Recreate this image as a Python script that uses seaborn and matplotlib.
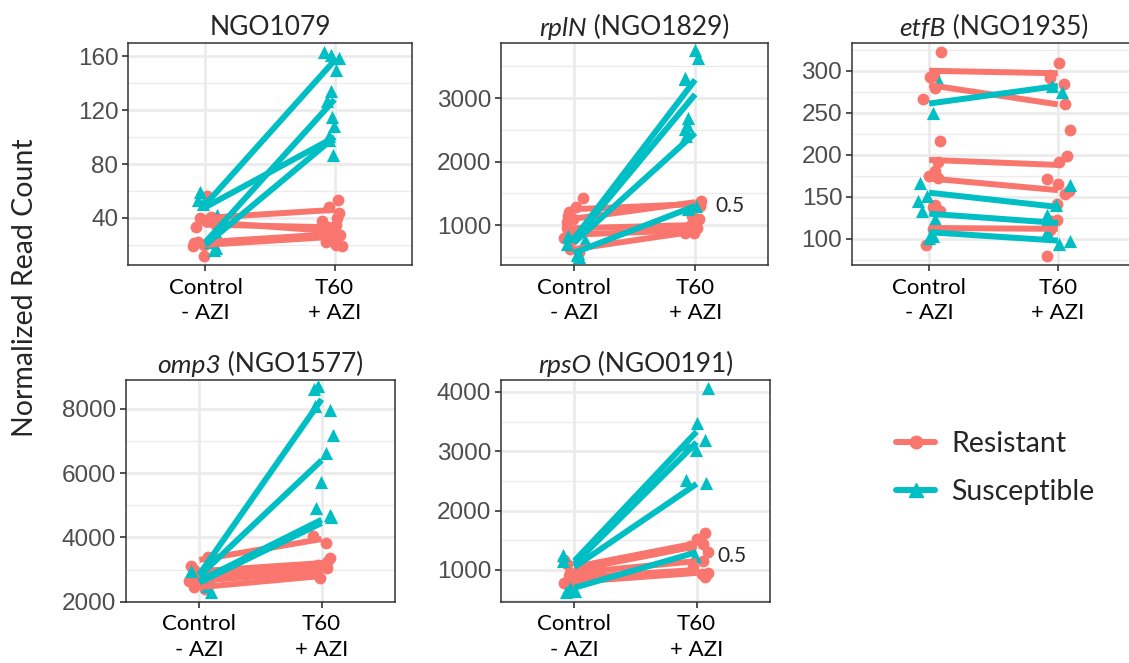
import numpy as np
import pandas as pd
import matplotlib.pyplot as plt
import seaborn as sns
from matplotlib.lines import Line2D
from matplotlib.ticker import FixedLocator

# time points on the x axis
times = ["Control\n- AZI", "T60\n+ AZI"]
groups = ["Resistant", "Susceptible"]
colors = {"Resistant": "#F8766D", "Susceptible": "#00BFC4"}

# NGO1079
ngo1079_res_ctrl = [56, 41, 40, 38, 36, 35, 33, 22, 21, 20, 19, 12]
ngo1079_res_t60 = [53, 48, 44, 40, 38, 35, 33, 30, 28, 27, 25, 22, 20, 19]
ngo1079_sus_ctrl = [59, 53, 50, 42, 26, 22, 18, 16]
ngo1079_sus_t60 = [161, 163, 159, 150, 134, 127, 115, 108, 101, 98, 87]
ngo1079_res_mean_ctrl = [40, 37, 35, 22, 20]
ngo1079_res_mean_t60 = [46, 30, 33, 28, 26]
ngo1079_sus_mean_ctrl = [50, 48, 22, 20]
ngo1079_sus_mean_t60 = [157, 100, 128, 100]

# rplN (NGO1829)
rpln_res_ctrl = [1420, 1280, 1200, 1150, 1100, 1050, 950, 900, 800, 780, 620, 580]
rpln_res_t60 = [1380, 1350, 1300, 1150, 1100, 1000, 950, 900, 880, 870]
rpln_sus_ctrl = [820, 760, 700, 560, 530, 500]
rpln_sus_t60 = [3760, 3630, 3320, 3300, 2690, 2580, 2510, 2400, 1300, 1260]
rpln_res_mean_ctrl = [1250, 1100, 950, 850, 620]
rpln_res_mean_t60 = [1330, 1360, 1000, 920, 900]
rpln_sus_mean_ctrl = [780, 760, 720, 560]
rpln_sus_mean_t60 = [3290, 3060, 2450, 1300]

# etfB (NGO1935)
etfb_res_ctrl = [322, 294, 292, 279, 266, 217, 192, 181, 175, 172, 140, 138, 133, 112, 93]
etfb_res_t60 = [309, 295, 291, 284, 260, 229, 199, 192, 171, 165, 157, 154, 141, 122, 121, 111, 80]
etfb_sus_ctrl = [287, 250, 167, 151, 145, 133, 124, 104, 101]
etfb_sus_t60 = [282, 275, 164, 140, 128, 120, 108, 98, 94]
etfb_res_mean_ctrl = [300, 283, 194, 172, 113]
etfb_res_mean_t60 = [297, 260, 188, 158, 112]
etfb_sus_mean_ctrl = [261, 155, 130, 108]
etfb_sus_mean_t60 = [282, 138, 119, 98]

# omp3 (NGO1577)
omp3_res_ctrl = [3400, 3100, 3000, 2900, 2800, 2700, 2650, 2550, 2450, 2400]
omp3_res_t60 = [4030, 3820, 3350, 3250, 3150, 3050, 2950, 2850, 2750]
omp3_sus_ctrl = [3050, 2950, 2750, 2500, 2300]
omp3_sus_t60 = [8710, 8620, 8080, 7980, 7200, 6630, 5740, 4910, 4700, 4650]
omp3_res_mean_ctrl = [3300, 2950, 2800, 2650, 2450]
omp3_res_mean_t60 = [3950, 3200, 3050, 2950, 2800]
omp3_sus_mean_ctrl = [2850, 2800, 2650, 2600]
omp3_sus_mean_t60 = [8300, 6400, 4550, 4450]

# rpsO (NGO0191)
rpso_res_ctrl = [1170, 1100, 1050, 1000, 950, 900, 850, 800, 780]
rpso_res_t60 = [1630, 1520, 1440, 1400, 1300, 1150, 1050, 950, 930, 880]
rpso_sus_ctrl = [1250, 1150, 1050, 700, 650, 630]
rpso_sus_t60 = [4060, 3470, 3190, 3130, 3020, 2510, 2460, 1230]
rpso_res_mean_ctrl = [1050, 1000, 950, 870, 800]
rpso_res_mean_t60 = [1450, 1400, 1150, 1000, 950]
rpso_sus_mean_ctrl = [1150, 1100, 1050, 700]
rpso_sus_mean_t60 = [3330, 3150, 2450, 1300]

panels = [
    # title parts, points, strain means, y ticks, minor step, y limits, MIC label y, axes box in pixels (l, t, r, b)
    ("", "NGO1079",
     [ngo1079_res_ctrl, ngo1079_res_t60, ngo1079_sus_ctrl, ngo1079_sus_t60],
     [ngo1079_res_mean_ctrl, ngo1079_res_mean_t60, ngo1079_sus_mean_ctrl, ngo1079_sus_mean_t60],
     [40, 80, 120, 160], 40, (5, 170), None, (128, 43, 412, 265)),
    ("rplN", " (NGO1829)",
     [rpln_res_ctrl, rpln_res_t60, rpln_sus_ctrl, rpln_sus_t60],
     [rpln_res_mean_ctrl, rpln_res_mean_t60, rpln_sus_mean_ctrl, rpln_sus_mean_t60],
     [1000, 2000, 3000], 1000, (370, 3870), 1300, (501, 43, 768, 265)),
    ("etfB", " (NGO1935)",
     [etfb_res_ctrl, etfb_res_t60, etfb_sus_ctrl, etfb_sus_t60],
     [etfb_res_mean_ctrl, etfb_res_mean_t60, etfb_sus_mean_ctrl, etfb_sus_mean_t60],
     [100, 150, 200, 250, 300], 50, (69, 333), None, (852, 43, 1135, 265)),
    ("omp3", " (NGO1577)",
     [omp3_res_ctrl, omp3_res_t60, omp3_sus_ctrl, omp3_sus_t60],
     [omp3_res_mean_ctrl, omp3_res_mean_t60, omp3_sus_mean_ctrl, omp3_sus_mean_t60],
     [2000, 4000, 6000, 8000], 2000, (1990, 8900), None, (126, 380, 395, 602)),
    ("rpsO", " (NGO0191)",
     [rpso_res_ctrl, rpso_res_t60, rpso_sus_ctrl, rpso_sus_t60],
     [rpso_res_mean_ctrl, rpso_res_mean_t60, rpso_sus_mean_ctrl, rpso_sus_mean_t60],
     [1000, 2000, 3000, 4000], 1000, (460, 4200), 1230, (501, 380, 770, 602)),
]

sns.set_theme(style="white")
plt.rcParams["font.family"] = ["Lato", "DejaVu Sans"]

W, H = 1129, 663
fig = plt.figure(figsize=(W / 100, H / 100), dpi=100)
renderer = fig.canvas.get_renderer()
np.random.seed(3)

for gene, suffix, pts, means, yticks, ystep, ylim, mic_y, box in panels:
    l, t, r, b = box
    ax = fig.add_axes([l / W, 1 - b / H, (r - l) / W, (b - t) / H])

    # jittered replicate points
    rows = []
    for g, (c, t6) in zip(groups, [(pts[0], pts[1]), (pts[2], pts[3])]):
        rows += [(g, times[0], v) for v in c]
        rows += [(g, times[1], v) for v in t6]
    df = pd.DataFrame(rows, columns=["group", "time", "value"])
    for g, mk, sz in [("Resistant", "o", 8.5), ("Susceptible", "^", 9.5)]:
        sns.stripplot(data=df[df.group == g], x="time", y="value", order=times,
                      color=colors[g], marker=mk, size=sz, linewidth=0,
                      jitter=0.1, ax=ax, zorder=3)

    # strain means connected between time points
    lrows = []
    for g, (mc, mt) in zip(groups, [(means[0], means[1]), (means[2], means[3])]):
        for i, (a, z) in enumerate(zip(mc, mt)):
            lrows += [(g, f"{g}{i}", 0, a), (g, f"{g}{i}", 1, z)]
    ldf = pd.DataFrame(lrows, columns=["group", "strain", "x", "value"])
    sns.lineplot(data=ldf, x="x", y="value", hue="group", units="strain",
                 estimator=None, palette=colors, linewidth=4.3, legend=False,
                 ax=ax, zorder=4, solid_capstyle="butt")

    ax.set_xlim(-0.6, 1.6)
    ax.set_ylim(*ylim)
    ax.set_xticks([0, 1])
    ax.set_xticklabels(times, fontsize=16, color="black", linespacing=1.35)
    ax.set_yticks(yticks)
    ax.set_yticklabels([str(v) for v in yticks], fontsize=17.5,
                       color="#4D4D4D", family="Liberation Sans")
    minors = np.arange(yticks[0] - ystep / 2, ylim[1], ystep)
    ax.yaxis.set_minor_locator(FixedLocator(minors))
    ax.set_axisbelow(True)
    ax.grid(True, which="major", color="#EBEBEB", lw=2.0)
    ax.grid(True, which="minor", axis="y", color="#EBEBEB", lw=1.0)
    ax.tick_params(axis="both", which="major", length=4, width=1.2,
                   color="#333333", direction="out", pad=3, bottom=True, left=True)
    ax.tick_params(axis="x", which="major", pad=5)
    ax.tick_params(axis="y", which="minor", length=0)
    for s in ax.spines.values():
        s.set_color("#333333")
        s.set_linewidth(1.1)
    ax.set_xlabel("")
    ax.set_ylabel("")

    # title: italic gene name followed by upright locus tag, centred together
    ty = 1 + 3 / (b - t)
    t_a = ax.text(0.5, ty, gene, fontsize=19, fontstyle="italic",
                  ha="left", va="bottom", transform=ax.transAxes)
    t_b = ax.annotate(suffix, xy=(1, 0), xycoords=t_a, fontsize=19,
                      ha="left", va="bottom")
    wa = t_a.get_window_extent(renderer).width if gene else 0
    wb = t_b.get_window_extent(renderer).width
    t_a.set_x(0.5 - (wa + wb) / 2 / (r - l))

    if mic_y is not None:
        ax.text(1.17, mic_y, "0.5", fontsize=15, va="center", ha="left")

fig.text(25 / W, 1 - 288 / H, "Normalized Read Count", rotation=90,
         fontsize=20.5, ha="center", va="center")

handles = [Line2D([], [], color=colors[g], lw=4.3, marker=m, markersize=ms)
           for g, m, ms in [("Resistant", "o", 9), ("Susceptible", "^", 10)]]
fig.legend(handles, groups, loc="center left",
           bbox_to_anchor=(870 / W, 1 - 468 / H), frameon=False,
           fontsize=20.5, handlelength=1.4, labelspacing=0.8, handletextpad=0.55)

fig.savefig("out.png", dpi=100)
